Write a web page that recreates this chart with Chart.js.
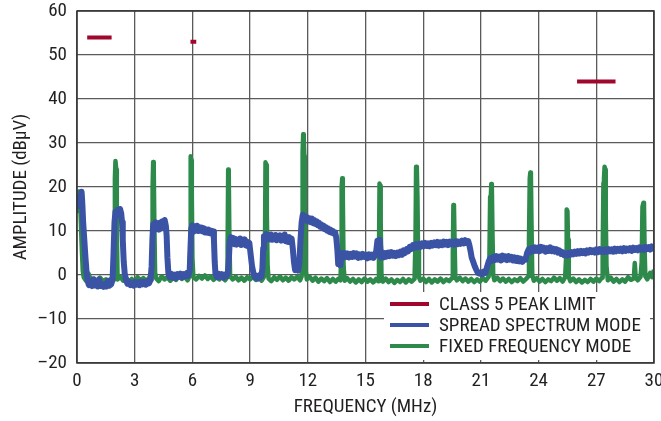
<!DOCTYPE html>
<html>
<head>
<meta charset="utf-8">
<script src="https://cdn.jsdelivr.net/npm/chart.js@4/dist/chart.umd.min.js"></script>
<style>
  html, body { margin: 0; padding: 0; background: #fff; }
  #wrap { width: 661px; height: 421px; position: relative; }
</style>
</head>
<body>
<div id="wrap"><canvas id="c" width="661" height="421"></canvas></div>
<script>
// ---- data (MHz, dBµV) ----
const seriesLabels = ['CLASS 5 PEAK LIMIT', 'SPREAD SPECTRUM MODE', 'FIXED FREQUENCY MODE'];
const xTickValues = [0, 3, 6, 9, 12, 15, 18, 21, 24, 27, 30];
const yTickValues = [-20, -10, 0, 10, 20, 30, 40, 50, 60];

const limitTrace = [[0.53,54],[1.8,54],[1.81,null],[5.9,53],[6.2,53],[6.21,null],[26,44],[28,44]];

const spreadTrace = [
[0.08,15],[0.12,17.8],[0.18,16.5],[0.24,18.9],[0.28,16],[0.32,12],[0.38,8],[0.44,4],[0.5,0.5],[0.56,-1.5],
[0.62,-2.3],[0.7,-1.8],[0.78,-2.5],[0.85,-1.0],[0.92,-2.4],[1.0,-2.0],[1.08,-2.6],[1.15,-1.0],[1.22,-2.5],[1.3,-2.2],
[1.38,-2.7],[1.46,-2.0],[1.54,-2.6],[1.62,-1.3],[1.7,-2.4],[1.78,-2.1],[1.85,-1.0],[1.9,5],[1.95,12],[2.0,14.4],
[2.06,13.5],[2.12,14.8],[2.18,13.8],[2.24,15],[2.3,14],[2.34,12],[2.38,8],[2.43,3],[2.48,0.4],[2.55,-1.2],
[2.62,-2.0],[2.7,-1.5],[2.78,-2.3],[2.86,-1.8],[2.94,-2.4],[3.02,-1.6],[3.1,-2.2],[3.18,-1.7],[3.26,-2.3],[3.34,-1.5],
[3.42,-2.1],[3.5,-1.6],[3.58,-2.2],[3.66,-1.4],[3.74,-1.9],[3.82,-1.2],[3.88,2],[3.92,8],[3.96,11.5],[4.02,10.2],
[4.08,12],[4.14,10.8],[4.2,11.6],[4.26,10.3],[4.32,11.9],[4.38,10.6],[4.44,12.2],[4.5,11],[4.56,12.5],[4.62,11.2],
[4.66,9],[4.7,4],[4.75,0.5],[4.82,-0.5],[4.9,0.3],[4.98,-0.6],[5.06,0.1],[5.14,-0.7],[5.22,0.2],[5.3,-0.4],
[5.38,0.3],[5.46,-0.5],[5.54,0.2],[5.62,-0.3],[5.7,0.4],[5.78,-0.2],[5.86,1],[5.9,6],[5.94,10.5],[6.0,11.3],
[6.06,9.8],[6.12,11],[6.18,10.2],[6.24,11.2],[6.3,10],[6.36,10.9],[6.42,10.1],[6.48,10.8],[6.54,9.9],[6.6,10.6],
[6.66,9.7],[6.72,10.4],[6.78,9.6],[6.84,10.3],[6.9,9.5],[6.96,10.1],[7.02,9.4],[7.08,9.9],[7.12,8],[7.16,3],
[7.2,0.2],[7.28,-0.5],[7.36,0.3],[7.44,-0.4],[7.52,0.2],[7.6,-0.6],[7.68,0.1],[7.76,-0.3],[7.84,0.4],[7.9,4],
[7.94,7.5],[8.0,8.6],[8.06,7.2],[8.12,8.4],[8.18,7.0],[8.24,8.2],[8.3,6.9],[8.36,8.0],[8.42,7.1],[8.48,8.3],
[8.54,6.8],[8.6,7.9],[8.66,7.0],[8.72,8.1],[8.78,6.7],[8.84,7.6],[8.9,6.5],[8.96,7.3],[9.02,5],[9.1,2],
[9.18,0.3],[9.26,-0.6],[9.34,-0.2],[9.42,-0.8],[9.5,0],[9.58,-0.4],[9.64,1.5],[9.68,6],[9.72,8.8],[9.78,8.0],
[9.84,9.3],[9.9,8.2],[9.96,9.0],[10.02,8.1],[10.08,9.2],[10.14,8.0],[10.2,8.9],[10.26,8.2],[10.32,9.1],[10.38,7.9],
[10.44,8.8],[10.5,8.1],[10.56,9.0],[10.62,7.8],[10.68,8.7],[10.74,8.0],[10.8,9.2],[10.86,7.7],[10.92,8.4],[10.98,7.5],
[11.04,8.6],[11.1,7.6],[11.16,8.3],[11.22,6],[11.28,3],[11.34,1.1],[11.42,1.8],[11.5,1.0],[11.56,2.5],[11.62,8],
[11.68,12],[11.74,13.7],[11.8,12.6],[11.86,13.4],[11.92,12.4],[11.98,13.1],[12.04,12.2],[12.1,12.9],[12.16,12.0],[12.22,12.8],
[12.28,11.8],[12.34,12.5],[12.4,11.6],[12.46,12.2],[12.52,11.3],[12.58,11.9],[12.64,11.0],[12.7,11.5],[12.76,10.7],[12.82,11.2],
[12.88,10.4],[12.94,10.9],[13.0,10.1],[13.06,10.6],[13.12,9.8],[13.18,10.3],[13.24,9.6],[13.3,10.0],[13.36,9.4],[13.42,9.7],
[13.48,8.5],[13.54,5.5],[13.58,2.5],[13.64,4.5],[13.7,2.2],[13.76,5.0],[13.82,3.9],[13.9,5.0],[13.98,4.1],[14.06,4.9],
[14.14,4.0],[14.22,4.8],[14.3,4.1],[14.38,5.0],[14.46,4.2],[14.54,4.9],[14.62,3.9],[14.7,4.7],[14.78,4.0],[14.86,4.8],
[14.94,4.1],[15.02,4.6],[15.1,3.8],[15.18,4.7],[15.26,4.0],[15.34,4.6],[15.42,3.9],[15.5,4.5],[15.56,5.5],[15.62,7.8],
[15.68,5.0],[15.74,8.0],[15.8,4.0],[15.86,5.2],[15.94,4.0],[16.02,5.0],[16.1,4.2],[16.18,5.1],[16.26,4.3],[16.34,5.2],
[16.42,4.4],[16.5,5.0],[16.58,4.3],[16.66,5.1],[16.74,4.5],[16.82,5.3],[16.9,4.6],[16.98,5.6],[17.06,5.0],[17.14,5.9],
[17.22,5.4],[17.3,6.4],[17.38,5.9],[17.46,6.8],[17.54,6.2],[17.62,7.0],[17.7,6.3],[17.78,7.1],[17.86,6.4],[17.94,7.2],
[18.02,6.5],[18.1,7.3],[18.18,6.6],[18.26,7.2],[18.34,6.5],[18.42,7.3],[18.5,6.7],[18.58,7.4],[18.66,6.8],[18.74,7.5],
[18.82,6.7],[18.9,7.4],[18.98,6.8],[19.06,7.6],[19.14,6.9],[19.22,7.5],[19.3,6.8],[19.38,7.6],[19.46,7.0],[19.54,7.5],
[19.62,6.9],[19.7,7.7],[19.78,7.0],[19.86,7.6],[19.94,7.1],[20.02,7.8],[20.1,7.2],[20.18,7.9],[20.26,7.3],[20.34,7.7],
[20.4,6.8],[20.46,5.5],[20.52,4.0],[20.6,3.0],[20.68,2.0],[20.76,1.2],[20.84,0.5],[20.92,0.3],[21.0,0.6],[21.08,0.2],
[21.16,0.8],[21.24,0.5],[21.32,1.8],[21.4,3.0],[21.48,3.8],[21.56,3.2],[21.64,4.1],[21.72,3.4],[21.8,4.3],[21.88,3.5],
[21.96,4.2],[22.04,3.3],[22.12,4.4],[22.2,3.6],[22.28,4.2],[22.36,3.4],[22.44,4.3],[22.52,3.5],[22.6,4.1],[22.68,3.3],
[22.76,4.0],[22.84,3.2],[22.92,3.9],[23.0,3.1],[23.08,3.7],[23.16,3.0],[23.24,3.6],[23.32,3.5],[23.4,5.0],[23.48,5.8],
[23.56,5.2],[23.64,6.1],[23.72,5.4],[23.8,6.3],[23.88,5.5],[23.96,6.2],[24.04,5.4],[24.12,6.4],[24.2,5.6],[24.28,6.2],
[24.36,5.3],[24.44,6.1],[24.52,5.5],[24.6,6.3],[24.68,5.4],[24.76,6.0],[24.84,5.3],[24.92,5.9],[25.0,5.1],[25.08,5.6],
[25.16,4.8],[25.24,5.2],[25.32,4.5],[25.4,4.9],[25.48,4.4],[25.56,5.0],[25.64,4.6],[25.72,5.2],[25.8,4.7],[25.88,5.3],
[25.96,4.8],[26.04,5.4],[26.12,4.9],[26.2,5.5],[26.28,5.0],[26.36,5.4],[26.44,4.9],[26.52,5.6],[26.6,5.1],[26.68,5.7],
[26.76,5.2],[26.84,5.6],[26.92,5.1],[27.0,5.8],[27.08,5.2],[27.16,5.9],[27.24,5.3],[27.32,5.7],[27.4,5.2],[27.48,5.8],
[27.56,5.3],[27.64,5.9],[27.72,5.4],[27.8,5.8],[27.88,5.3],[27.96,6.0],[28.04,5.4],[28.12,5.9],[28.2,5.5],[28.28,6.0],
[28.36,5.4],[28.44,6.1],[28.52,5.5],[28.6,6.0],[28.68,5.6],[28.76,6.1],[28.84,5.5],[28.92,6.2],[29.0,5.7],[29.08,6.1],
[29.16,5.6],[29.24,6.3],[29.32,5.8],[29.4,6.2],[29.48,5.7],[29.56,6.4],[29.64,5.9],[29.72,6.3],[29.8,5.8],[29.88,6.5],
[29.96,6.0],[30.0,6.2]
];

const fixedTrace = [
[0.05,14],[0.1,19],[0.15,18.5],[0.2,12],[0.25,6],[0.3,1],[0.35,-0.5],[0.45,-1.2],[0.6,0.3],[0.75,-1.5],
[0.9,-0.8],[1.05,-1.8],[1.2,-0.6],[1.35,-1.4],[1.5,-1.0],[1.65,-1.7],[1.8,-0.7],[1.9,-1.2],
[1.93,3],[1.97,22],[2.0,25.9],[2.04,24],[2.07,10],[2.11,-1.0],
[2.25,-0.4],[2.4,-1.3],[2.55,-0.6],[2.7,-1.5],[2.85,-0.9],[3.0,-1.6],[3.15,-0.5],[3.3,-1.2],[3.45,-0.7],[3.6,-1.4],
[3.75,-0.6],[3.88,-1.1],
[3.9,2],[3.93,20],[3.96,25.7],[3.99,24.5],[4.02,12],[4.06,0.5],[4.12,-0.8],
[4.25,-1.4],[4.4,-0.3],[4.55,-1.0],[4.7,-0.5],[4.85,-1.3],[5.0,-0.6],[5.15,-1.1],[5.3,-0.2],[5.45,-0.9],[5.6,-0.4],
[5.75,-1.2],[5.85,-0.3],
[5.88,5],[5.91,27],[5.94,26],[5.97,18],[6.0,4],[6.05,-0.5],
[6.2,-1.0],[6.35,-0.2],[6.5,-0.8],[6.65,-0.1],[6.8,-0.9],[6.95,-0.3],[7.1,-1.1],[7.25,-0.4],[7.4,-1.0],[7.55,-0.3],
[7.7,-1.2],[7.8,-0.5],
[7.83,6],[7.86,24],[7.89,23],[7.92,10],[7.96,-0.3],
[8.1,-1.0],[8.25,-0.4],[8.4,-1.2],[8.55,-0.6],[8.7,-1.3],[8.85,-0.5],[9.0,-1.0],[9.15,-0.3],[9.3,-1.1],[9.45,-0.6],
[9.6,-1.3],[9.72,-0.4],
[9.77,4],[9.8,25.6],[9.84,25],[9.87,14],[9.91,2],[9.96,-0.8],
[10.1,-1.4],[10.25,-0.5],[10.4,-1.1],[10.55,-0.3],[10.7,-1.2],[10.85,-0.6],[11.0,-1.3],[11.15,-0.5],[11.3,-1.0],[11.45,-0.4],
[11.6,-1.2],[11.68,-0.3],
[11.7,6],[11.73,28],[11.76,32],[11.79,31],[11.82,27],[11.85,14],[11.89,1],[11.95,-1.0],
[12.1,-0.4],[12.25,-1.3],[12.4,-0.6],[12.55,-1.5],[12.7,-0.8],[12.85,-1.4],[13.0,-0.7],[13.15,-1.6],[13.3,-0.9],[13.45,-1.5],
[13.6,-0.8],[13.7,-1.2],
[13.73,4],[13.76,20],[13.79,22],[13.82,18],[13.86,2],[13.92,-1.3],
[14.05,-0.7],[14.2,-1.5],[14.35,-0.9],[14.5,-1.7],[14.65,-1.0],[14.8,-1.6],[14.95,-0.8],[15.1,-1.5],[15.25,-1.0],[15.4,-1.7],
[15.55,-0.9],[15.66,-1.4],
[15.7,5],[15.73,20.8],[15.76,20.3],[15.79,12],[15.83,0],[15.9,-1.5],
[16.05,-0.8],[16.2,-1.6],[16.35,-1.0],[16.5,-1.8],[16.65,-1.1],[16.8,-1.6],[16.95,-0.9],[17.1,-1.7],[17.25,-1.0],[17.4,-1.5],
[17.55,-0.9],
[17.6,8],[17.63,24.6],[17.67,24],[17.7,18],[17.73,6],[17.78,-0.5],[17.85,-1.3],
[18.0,-0.8],[18.15,-1.6],[18.3,-0.9],[18.45,-1.7],[18.6,-1.0],[18.75,-1.5],[18.9,-0.8],[19.05,-1.6],[19.2,-1.0],[19.35,-1.4],
[19.5,-0.7],
[19.54,5],[19.57,15.9],[19.6,15.5],[19.63,8],[19.67,-0.6],[19.75,-1.2],
[19.9,-0.6],[20.05,-1.4],[20.2,-0.8],[20.35,-1.5],[20.5,-0.9],[20.65,-1.6],[20.8,-1.0],[20.95,-1.5],[21.1,-0.7],[21.25,-1.3],
[21.4,-0.4],
[21.44,3],[21.48,17.8],[21.51,17],[21.54,20.7],[21.57,20],[21.6,10],[21.64,0],[21.7,-1.2],
[21.85,-0.6],[22.0,-1.4],[22.15,-0.8],[22.3,-1.5],[22.45,-0.9],[22.6,-1.6],[22.75,-1.0],[22.9,-1.4],[23.05,-0.7],[23.2,-1.5],
[23.35,-0.9],[23.47,-0.3],
[23.5,8],[23.54,22],[23.57,23.3],[23.6,22.5],[23.63,12],[23.67,0],[23.75,-1.3],
[23.9,-0.7],[24.05,-1.5],[24.2,-0.9],[24.35,-1.6],[24.5,-1.0],[24.65,-1.4],[24.8,-0.6],[24.95,-1.3],[25.1,-0.7],[25.25,-1.5],
[25.38,-0.5],
[25.43,4],[25.46,14.9],[25.5,14.5],[25.53,8],[25.57,-0.5],[25.65,-1.4],
[25.8,-0.8],[25.95,-1.6],[26.1,-1.0],[26.25,-1.7],[26.4,-1.1],[26.55,-1.6],[26.7,-0.9],[26.85,-1.5],[27.0,-0.8],[27.15,-1.4],
[27.3,-0.6],
[27.33,4],[27.37,20.9],[27.4,22],[27.43,24.6],[27.46,24],[27.49,14],[27.53,2],[27.6,-1.2],
[27.75,-0.6],[27.9,-1.5],[28.05,-0.9],[28.2,-1.6],[28.35,-1.0],[28.5,-1.5],[28.65,-0.5],[28.8,-1.1],[28.95,-0.8],[29.0,2.7],
[29.05,-0.6],[29.15,-1.2],[29.3,-0.4],
[29.36,3],[29.4,15.5],[29.45,16.4],[29.48,15.8],[29.51,6],[29.55,-0.3],[29.65,-1.0],
[29.8,0.5],[29.9,-0.5],[30.0,1.2]
];

const seriesColors = ['#a0072d', '#3b53a5', '#2e8a4b'];

// ---- chart ----
const FONT = '"Liberation Sans Narrow", "Arial Narrow", "Roboto Condensed", "DejaVu Sans Condensed", sans-serif';
const TEXT = '#231f20';

const toPts = arr => arr.map(p => ({ x: p[0], y: p[1] }));

const overlayPlugin = {
  id: 'overlay',
  afterDatasetsDraw(chart) {
    const ctx = chart.ctx;
    const a = chart.chartArea;
    ctx.save();
    // legend box
    ctx.fillStyle = '#ffffff';
    ctx.fillRect(384, 292, 266, 68);
    const rows = [304, 325, 346];
    chart.data.datasets.forEach((ds, i) => {
      ctx.strokeStyle = ds.borderColor;
      ctx.lineWidth = 4;
      ctx.beginPath();
      ctx.moveTo(390, rows[i]);
      ctx.lineTo(429, rows[i]);
      ctx.stroke();
      ctx.fillStyle = TEXT;
      ctx.font = '19px ' + FONT;
      ctx.textAlign = 'left';
      ctx.textBaseline = 'middle';
      ctx.fillText(ds.label, 439, rows[i] + 1);
    });
    // frame
    ctx.strokeStyle = '#333';
    ctx.lineWidth = 1.5;
    ctx.strokeRect(a.left, a.top, a.right - a.left, a.bottom - a.top);
    ctx.restore();
  },
  afterDraw(chart) {
    const ctx = chart.ctx;
    const a = chart.chartArea;
    ctx.save();
    ctx.fillStyle = TEXT;
    ctx.font = '19px ' + FONT;
    ctx.textAlign = 'center';
    ctx.textBaseline = 'middle';
    ctx.fillText('FREQUENCY (MHz)', (a.left + a.right) / 2, 407);
    ctx.translate(21, (a.top + a.bottom) / 2);
    ctx.rotate(-Math.PI / 2);
    ctx.fillText('AMPLITUDE (dBµV)', 0, 0);
    ctx.restore();
  }
};

new Chart(document.getElementById('c'), {
  type: 'line',
  data: {
    datasets: [
      { label: seriesLabels[0], data: toPts(limitTrace), borderColor: seriesColors[0], borderWidth: 4, pointRadius: 0, spanGaps: false, borderCapStyle: 'butt' },
      { label: seriesLabels[1], data: toPts(spreadTrace), borderColor: seriesColors[1], borderWidth: 6, pointRadius: 0, borderJoinStyle: 'round' },
      { label: seriesLabels[2], data: toPts(fixedTrace), borderColor: seriesColors[2], borderWidth: 4.5, pointRadius: 0, borderJoinStyle: 'round' }
    ]
  },
  options: {
    responsive: false,
    animation: false,
    devicePixelRatio: 1,
    layout: { padding: { left: 0, top: 11, right: 7, bottom: 0 } },
    plugins: { legend: { display: false }, tooltip: { enabled: false } },
    scales: {
      x: {
        type: 'linear', min: 0, max: 30,
        afterBuildTicks: s => { s.ticks = xTickValues.map(v => ({ value: v })); },
        afterFit: s => { s.height = 58; s.paddingLeft = 0; s.paddingRight = 0; },
        grid: { color: '#5a5a5a', lineWidth: 1.3, drawTicks: false },
        border: { display: false },
        ticks: { padding: 7, color: TEXT, font: { size: 19, family: FONT }, maxRotation: 0, autoSkip: false }
      },
      y: {
        type: 'linear', min: -20, max: 60,
        afterBuildTicks: s => { s.ticks = yTickValues.map(v => ({ value: v })); },
        afterFit: s => { s.width = 77; s.paddingTop = 0; s.paddingBottom = 0; },
        grid: { color: '#5a5a5a', lineWidth: 1.3, drawTicks: false },
        border: { display: false },
        ticks: { padding: 10, color: TEXT, font: { size: 19, family: FONT },
                 callback: v => (v < 0 ? '\u2013' + Math.abs(v) : String(v)) }
      }
    }
  },
  plugins: [overlayPlugin]
});
</script>
</body>
</html>
